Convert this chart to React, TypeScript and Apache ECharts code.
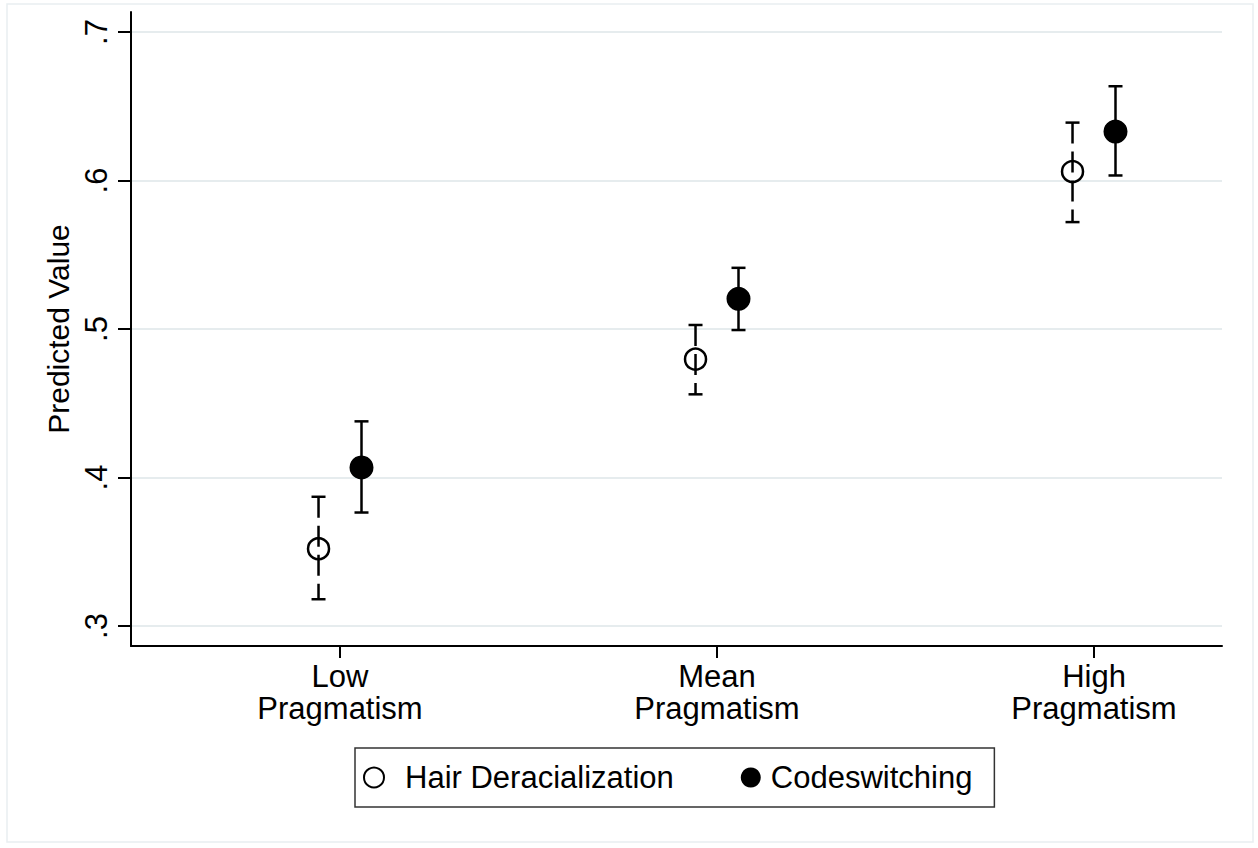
import React, { useEffect, useRef } from "react";
import * as echarts from "echarts";

const categories = ["Low\nPragmatism", "Mean\nPragmatism", "High\nPragmatism"];
const yTicks = [0.3, 0.4, 0.5, 0.6, 0.7];

const hairEst = [0.352, 0.4797, 0.606];
const hairLo = [0.318, 0.456, 0.572];
const hairHi = [0.387, 0.5027, 0.639];

const codeEst = [0.4068, 0.5203, 0.633];
const codeLo = [0.3764, 0.4993, 0.6034];
const codeHi = [0.4378, 0.5412, 0.6635];

const FONT = '"Liberation Sans", Helvetica, Arial, sans-serif';
const OFFSET = 0.057;

export default function App() {
  const ref = useRef<HTMLDivElement>(null);
  useEffect(() => {
    document.body.style.margin = "0";
    const chart = echarts.init(ref.current!, null, { renderer: "svg" });

    const hairPts = hairEst.map((v, i) => [i + 1 - OFFSET, v]);
    const codePts = codeEst.map((v, i) => [i + 1 + OFFSET, v]);
    const hairBars = hairEst.map((_, i) => [i + 1 - OFFSET, hairLo[i], hairHi[i]]);
    const codeBars = codeEst.map((_, i) => [i + 1 + OFFSET, codeLo[i], codeHi[i]]);

    const errRender = (dashed: boolean) => (params: any, api: any) => {
      const x = api.value(0);
      const lo = api.coord([x, api.value(1)]);
      const hi = api.coord([x, api.value(2)]);
      const cw = 7;
      const style: any = { stroke: "#000", lineWidth: 2.5 };
      return {
        type: "group",
        children: [
          {
            type: "line",
            shape: { x1: hi[0], y1: hi[1], x2: lo[0], y2: lo[1] },
            style: dashed ? { ...style, lineDash: [21, 8] } : style,
          },
          { type: "line", shape: { x1: hi[0] - cw, y1: hi[1], x2: hi[0] + cw, y2: hi[1] }, style },
          { type: "line", shape: { x1: lo[0] - cw, y1: lo[1], x2: lo[0] + cw, y2: lo[1] }, style },
        ],
      };
    };

    chart.setOption({
      animation: false,
      backgroundColor: "#fff",
      textStyle: { fontFamily: FONT },
      graphic: [
        {
          type: "rect",
          shape: { x: 7, y: 4, width: 1246, height: 838 },
          style: { fill: "none", stroke: "#e9eef1", lineWidth: 1.5 },
          silent: true,
          z: -10,
        },
      ],
      grid: { left: 131, right: 36, top: 12, bottom: 202 },
      xAxis: {
        type: "value",
        min: 0.4456,
        max: 3.3395,
        axisLine: { show: true, lineStyle: { color: "#000", width: 2 } },
        axisTick: { show: true, customValues: [1, 2, 3], length: 12, lineStyle: { color: "#000", width: 2 } },
        axisLabel: {
          customValues: [1, 2, 3],
          formatter: (v: number) => categories[Math.round(v) - 1] ?? "",
          color: "#000",
          fontSize: 31,
          lineHeight: 32,
          margin: 14,
          fontFamily: FONT,
        },
        splitLine: { show: false },
      },
      yAxis: {
        type: "value",
        min: 0.2865,
        max: 0.7135,
        name: "Predicted Value",
        nameLocation: "middle",
        nameRotate: 90,
        nameGap: 54,
        nameTextStyle: { color: "#000", fontSize: 30, fontFamily: FONT },
        axisLine: { show: true, lineStyle: { color: "#000", width: 2 } },
        axisTick: { show: true, customValues: yTicks, length: 13, lineStyle: { color: "#000", width: 2 } },
        axisLabel: {
          customValues: yTicks,
          formatter: (v: number) => v.toFixed(1).replace(/^0/, ""),
          rotate: 90,
          color: "#000",
          fontSize: 31,
          margin: 19,
          fontFamily: FONT,
        },
        splitLine: { show: true, lineStyle: { color: "#e6ecee", width: 2 } },
      },
      legend: {
        left: 355,
        top: 748,
        orient: "horizontal",
        borderColor: "#333",
        borderWidth: 1.5,
        padding: [14, 22, 14, 8],
        itemGap: 67,
        itemWidth: 20,
        itemHeight: 20,
        textStyle: { color: "#000", fontSize: 31, fontFamily: FONT },
        data: [
          {
            name: "Hair Deracialization",
            icon: "circle",
            itemStyle: { color: "#fff", borderColor: "#000", borderWidth: 2 },
            textStyle: { padding: [0, 0, 0, 16] },
          },
          {
            name: "Codeswitching",
            icon: "circle",
            itemStyle: { color: "#000" },
            textStyle: { padding: [0, 0, 0, 5] },
          },
        ],
      },
      series: [
        {
          name: "Hair Deracialization CI",
          type: "custom",
          renderItem: errRender(true),
          encode: { x: 0, y: [1, 2] },
          data: hairBars,
          z: 2,
        },
        {
          name: "Codeswitching CI",
          type: "custom",
          renderItem: errRender(false),
          encode: { x: 0, y: [1, 2] },
          data: codeBars,
          z: 2,
        },
        {
          name: "Hair Deracialization",
          type: "scatter",
          symbol: "circle",
          symbolSize: 21,
          itemStyle: { color: "rgba(255,255,255,0)", borderColor: "#000", borderWidth: 2.5, opacity: 1 },
          data: hairPts,
          z: 3,
        },
        {
          name: "Codeswitching",
          type: "scatter",
          symbol: "circle",
          symbolSize: 24,
          itemStyle: { color: "#000", opacity: 1 },
          data: codePts,
          z: 3,
        },
      ],
    });
    return () => chart.dispose();
  }, []);
  return <div ref={ref} style={{ width: 1258, height: 848 }} />;
}
